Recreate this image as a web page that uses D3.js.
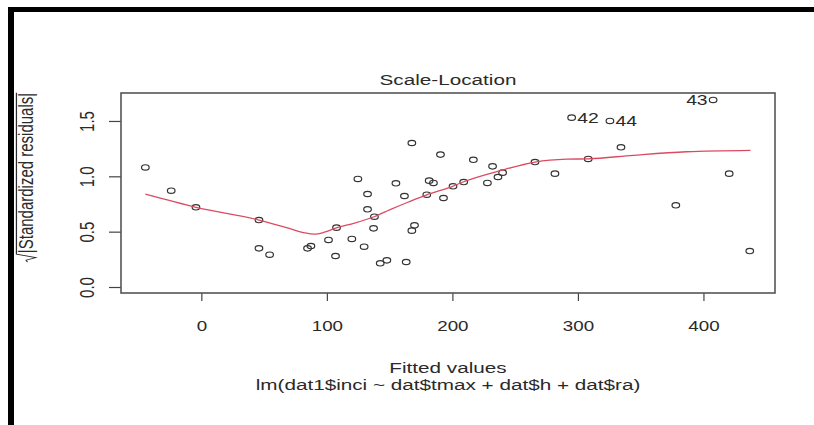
<!DOCTYPE html>
<html><head><meta charset="utf-8">
<script src="https://cdn.jsdelivr.net/npm/d3@7"></script>
<style>
body{margin:0;background:#fff}
svg{display:block}
text{font-family:"Liberation Sans",Arial,sans-serif}
</style>
</head><body>
<svg id="chart" width="814" height="425"></svg>
<script>
// ---- data ----
const fittedValues = [-44.6,-24.0,-4.3,45.9,45.9,54.4,84.6,87.3,101.3,107.7,106.9,119.9,124.7,129.7,132.4,132.4,137.9,137.2,142.5,147.8,155.0,161.8,163.2,167.7,167.7,169.8,179.6,181.5,184.9,190.5,192.9,200.5,209.0,216.7,227.9,232.0,236.3,240.0,265.8,281.7,295.0,308.2,325.5,334.3,378.0,407.7,420.5,436.9];
const sqrtStdResid = [1.080,0.870,0.720,0.605,0.349,0.292,0.349,0.370,0.425,0.536,0.280,0.434,0.976,0.364,0.840,0.702,0.635,0.530,0.214,0.241,0.937,0.822,0.226,1.301,0.509,0.557,0.834,0.961,0.940,1.196,0.804,0.910,0.948,1.149,0.940,1.090,0.994,1.033,1.129,1.024,1.530,1.157,1.500,1.262,0.738,1.690,1.024,0.325];
const labelIndex = [40, 42, 45];
const labelText = ["42", "44", "43"];
const labelPos = [4, 4, 2]; // R text pos codes: 4 = right, 2 = left
const smoothX = [-44.6,-4.3,45.9,70.0,82.0,90.0,98.0,107.5,122.0,138.0,150.4,165.0,179.6,200.3,209.0,238.0,265.8,291.0,308.2,344.0,386.5,437.5];
const smoothY = [0.838,0.720,0.605,0.530,0.490,0.477,0.495,0.535,0.578,0.637,0.699,0.768,0.833,0.910,0.951,1.051,1.129,1.155,1.158,1.190,1.222,1.235];
const xTicks = [0, 100, 200, 300, 400];
const yTicks = [0.0, 0.5, 1.0, 1.5];
const titleText = "Scale-Location";
const xLabel = "Fitted values";
const subLabel = "lm(dat1$inci ~ dat$tmax + dat$h + dat$ra)";
const yLabel = "|Standardized residuals|";

// ---- layout ----
const svg = d3.select("#chart");
const box = {left:121, right:775, top:93, bottom:293};
const SX = 1.38;   // horizontal stretch of the source image
const FS = 15;
const ink = "#2a2a2a";

svg.append("rect").attr("width",814).attr("height",425).attr("fill","#fff");
// black frame of the screenshot
svg.append("rect").attr("x",8).attr("y",7).attr("width",806).attr("height",5).attr("fill","#000");
svg.append("rect").attr("x",8).attr("y",7).attr("width",6).attr("height",418).attr("fill","#000");

const x = d3.scaleLinear().domain([-64, 457]).range([box.left, box.right]);
const y = d3.scaleLinear().domain([-0.0542, 1.7527]).range([box.bottom, box.top]);

// axes
const gx = svg.append("g").attr("transform",`translate(0,${box.bottom})`)
  .call(d3.axisBottom(x).tickValues(xTicks).tickFormat(d3.format("d")).tickSize(8).tickSizeOuter(0));
gx.select(".domain").remove();
gx.selectAll(".tick line").attr("stroke","#444").attr("stroke-width",1.2);
gx.selectAll(".tick text").attr("y",38).attr("dy",null).attr("fill",ink)
  .attr("font-size",FS).attr("font-family","Liberation Sans, Arial, sans-serif")
  .attr("transform",`scale(1.25,1)`);

const gy = svg.append("g").attr("transform",`translate(${box.left},0)`)
  .call(d3.axisLeft(y).tickValues(yTicks).tickFormat(d3.format(".1f")).tickSize(12).tickSizeOuter(0));
gy.select(".domain").remove();
gy.selectAll(".tick line").attr("stroke","#444").attr("stroke-width",1.2);
gy.selectAll(".tick text").attr("x",null).attr("y",null).attr("dy",null).attr("fill",ink)
  .attr("text-anchor","middle").attr("font-size",FS).attr("font-family","Liberation Sans, Arial, sans-serif")
  .attr("transform",`translate(-27,0) scale(${SX},1) rotate(-90)`);

// plot box
svg.append("rect").attr("x",box.left).attr("y",box.top)
  .attr("width",box.right-box.left).attr("height",box.bottom-box.top)
  .attr("fill","none").attr("stroke","#555").attr("stroke-width",1.6);

// points
const pts = fittedValues.map((v,i)=>({fx:v, r:sqrtStdResid[i]}));
svg.append("g").selectAll("ellipse").data(pts).join("ellipse")
  .attr("cx",d=>x(d.fx)).attr("cy",d=>y(d.r)).attr("rx",3.8).attr("ry",2.7)
  .attr("fill","none").attr("stroke","#333").attr("stroke-width",1.2);

// smoother
const smooth = smoothX.map((v,i)=>[v, smoothY[i]]);
svg.append("path").datum(smooth)
  .attr("d", d3.line().curve(d3.curveMonotoneX).x(d=>x(d[0])).y(d=>y(d[1])))
  .attr("fill","none").attr("stroke","#dc4a62").attr("stroke-width",1.3);

// point labels
labelIndex.forEach((idx,k)=>{
  const px = x(fittedValues[idx]), py = y(sqrtStdResid[idx]);
  const right = labelPos[k] === 4;
  svg.append("text").attr("transform",`translate(${px + (right?5.5:-5.5)},${py}) scale(${SX},1)`)
    .attr("text-anchor", right ? "start" : "end").attr("dy","0.35em")
    .attr("font-size",FS-1).attr("fill",ink).text(labelText[k]);
});

// title and axis titles
const cx = (box.left+box.right)/2;
svg.append("text").attr("transform",`translate(${cx},85) scale(${SX},1)`)
  .attr("text-anchor","middle").attr("font-size",FS).attr("fill",ink).text(titleText);
svg.append("text").attr("transform",`translate(${cx},373) scale(${SX},1)`)
  .attr("text-anchor","middle").attr("font-size",FS).attr("fill",ink).text(xLabel);
svg.append("text").attr("transform",`translate(${cx},390) scale(${SX},1)`)
  .attr("text-anchor","middle").attr("font-size",FS).attr("fill",ink).text(subLabel);

// y label with radical sign
const gl = svg.append("g").attr("transform",`translate(33,177.5) scale(${SX},1) rotate(-90)`);
const yt = gl.append("text").attr("font-size",FS).attr("fill",ink).text(yLabel);
const tw = yt.node().getComputedTextLength();
const radW = 9;
const start = -(tw + radW)/2;
yt.attr("x", start + radW);
gl.append("path")
  .attr("d",`M${start},${-4} L${start+2},${-5} L${start+4.5},${2} L${start+8},${-12} L${start+radW+tw},${-12}`)
  .attr("fill","none").attr("stroke",ink).attr("stroke-width",0.9);
</script>
</body></html>
